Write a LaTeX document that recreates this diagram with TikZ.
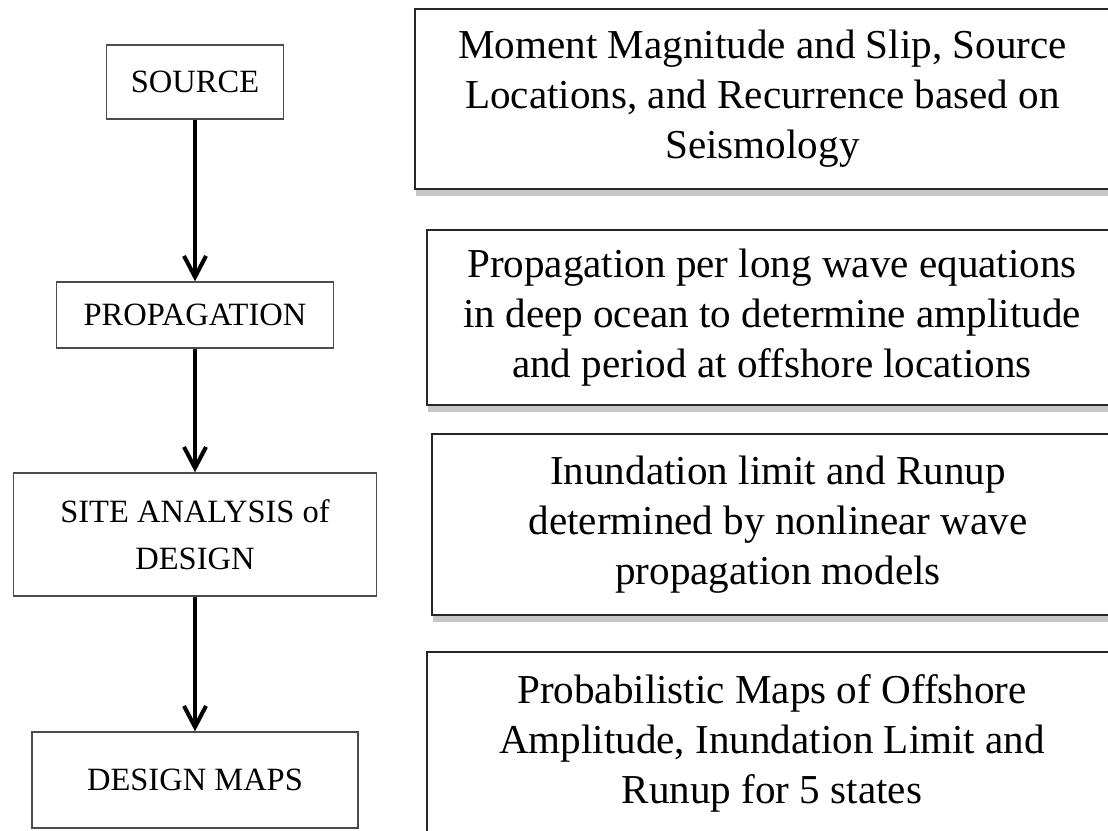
\documentclass[tikz,border=0pt]{standalone}
\usepackage{fontspec}
\setmainfont{Liberation Serif}
\usetikzlibrary{arrows.meta,shadows}
\begin{document}
\begin{tikzpicture}[x=0.02cm,y=-0.02cm,
  stage/.style={draw=black!70,line width=0.8pt,fill=white,align=center,inner sep=0pt,
    font=\fontsize{18.5}{27}\selectfont},
  note/.style={draw=black!85,line width=1pt,fill=white,align=center,inner sep=0pt,
    font=\fontsize{23.4}{28.5}\selectfont,
    drop shadow={shadow xshift=0.8pt,shadow yshift=-4pt,fill=black!50,opacity=.45}},
  flow/.style={line width=2.3pt,-{Straight Barb[length=4.2mm,width=4.4mm,line width=2.3pt]}}]
\useasboundingbox (0,0) rectangle (1108,831);
\clip (0,0) rectangle (1108,831);
\node[stage,minimum width=3.54cm,minimum height=1.48cm] (source) at (195,82) {SOURCE};
\node[stage,minimum width=5.54cm,minimum height=1.32cm] (propagation) at (195,315) {PROPAGATION};
\node[stage,minimum width=7.26cm,minimum height=2.46cm] (site) at (195,534.5) {SITE ANALYSIS of\\DESIGN};
\node[stage,minimum width=6.52cm,minimum height=1.92cm] (maps) at (195,780) {DESIGN MAPS};
\draw[flow] (source) -- (propagation);
\draw[flow] (propagation) -- (site);
\draw[flow] (site) -- (maps);
\node[note,minimum width=13.9cm,minimum height=3.6cm] (seismo) at (762.5,99)
  {Moment Magnitude and Slip, Source\\Locations, and Recurrence based on\\Seismology};
\node[note,minimum width=13.8cm,minimum height=3.5cm] (longwave) at (772,317.5)
  {Propagation per long wave equations\\in deep ocean to determine amplitude\\and period at offshore locations};
\node[note,minimum width=13.84cm,minimum height=3.62cm] (runup) at (778,524.5)
  {Inundation limit and Runup\\determined by nonlinear wave\\propagation models};
\node[note,minimum width=13.8cm,minimum height=3.64cm] (probmaps) at (772,743)
  {Probabilistic Maps of Offshore\\Amplitude, Inundation Limit and\\Runup for 5 states};
\end{tikzpicture}
\end{document}
